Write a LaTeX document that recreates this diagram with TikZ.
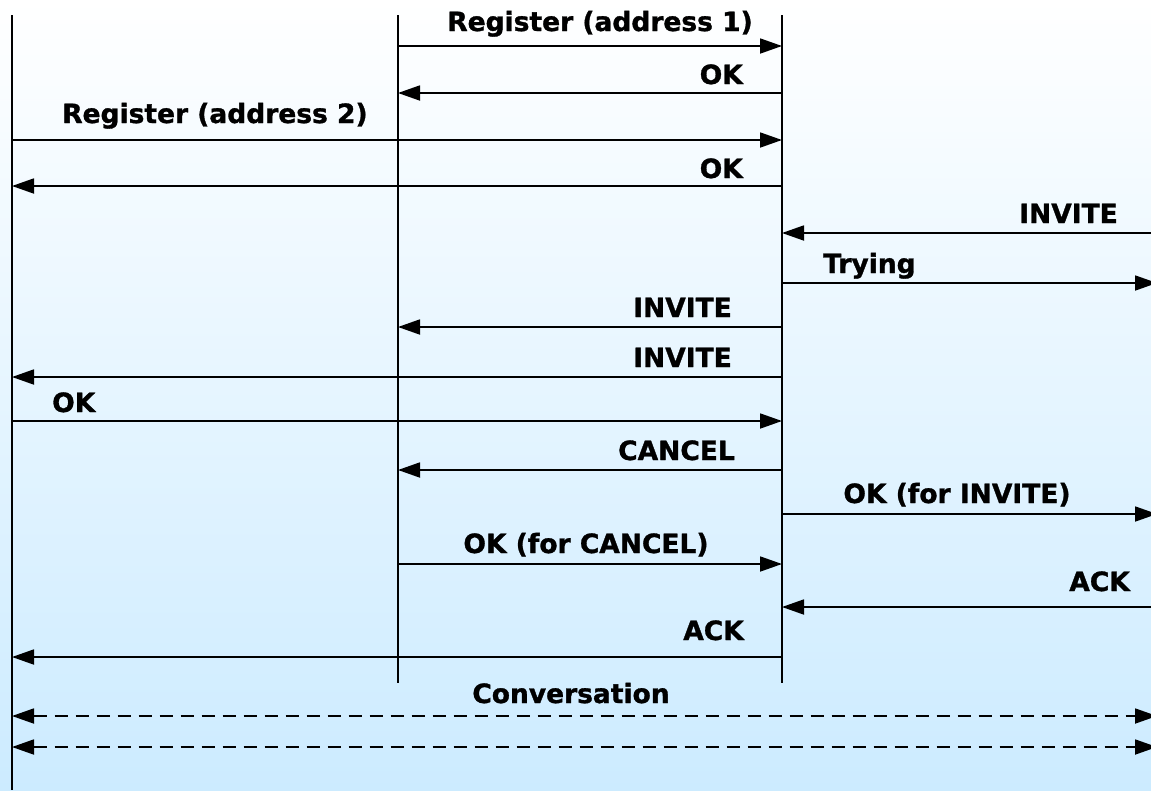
\documentclass[tikz,border=0pt]{standalone}
\usepackage{fontspec}
\setmainfont{DejaVu Sans}[BoldFeatures={FakeBold=1.2}]
\usetikzlibrary{arrows.meta}

\definecolor{skyblue}{RGB}{204,235,255}

\begin{document}
\begin{tikzpicture}[x=1pt, y=-1pt,
        every node/.append style={font=\bfseries\fontsize{26.5}{30}\selectfont, inner sep=0pt},
        life/.style={line width=1.8pt},
        msg/.style={line width=1.8pt, -{Triangle[length=22pt,width=15pt]}},
        conv/.style={line width=1.8pt, dash pattern=on 13pt off 8pt,
            {Triangle[length=22pt,width=15pt]}-{Triangle[length=22pt,width=15pt]}}]
        \useasboundingbox (0,0) rectangle (1151,790);
        \shade[top color=white, middle color=skyblue!38!white, bottom color=skyblue] (0,0) rectangle (1151,790);

        % lifelines
        \coordinate (a) at (12,15);
        \coordinate (b) at (398,15);
        \coordinate (c) at (782,15);
        \coordinate (d) at (1157,15);
        \coordinate (aend) at (12,790);
        \coordinate (bend) at (398,683);
        \coordinate (cend) at (782,683);
        \draw[life] (a) -- (aend);
        \draw[life] (b) -- (bend);
        \draw[life] (c) -- (cend);

        % messages
        \draw[msg] (b |- 0,46) -- (c |- 0,46);
        \node[anchor=base] (m1) at (600,31) {Register (address 1)};
        \draw[msg] (c |- 0,93) -- (b |- 0,93);
        \node[anchor=base east] (m2) at (743,84) {OK};
        \draw[msg] (a |- 0,140) -- (c |- 0,140);
        \node[anchor=base west] (m3) at (62,123) {Register (address 2)};
        \draw[msg] (c |- 0,186) -- (a |- 0,186);
        \node[anchor=base east] (m4) at (743,178) {OK};
        \draw[msg] (d |- 0,233) -- (c |- 0,233);
        \node[anchor=base east] (m5) at (1118,223) {INVITE};
        \draw[msg] (c |- 0,283) -- (d |- 0,283);
        \node[anchor=base west] (m6) at (823,273) {Trying};
        \draw[msg] (c |- 0,327) -- (b |- 0,327);
        \node[anchor=base east] (m7) at (732,317) {INVITE};
        \draw[msg] (c |- 0,377) -- (a |- 0,377);
        \node[anchor=base east] (m8) at (732,367) {INVITE};
        \draw[msg] (a |- 0,421) -- (c |- 0,421);
        \node[anchor=base west] (m9) at (52,412) {OK};
        \draw[msg] (c |- 0,470) -- (b |- 0,470);
        \node[anchor=base east] (m10) at (735,460) {CANCEL};
        \draw[msg] (c |- 0,514) -- (d |- 0,514);
        \node[anchor=base] (m11) at (957,503) {OK (for INVITE)};
        \draw[msg] (b |- 0,564) -- (c |- 0,564);
        \node[anchor=base] (m12) at (586,553) {OK (for CANCEL)};
        \draw[msg] (d |- 0,607) -- (c |- 0,607);
        \node[anchor=base east] (m13) at (1130,591) {ACK};
        \draw[msg] (c |- 0,657) -- (a |- 0,657);
        \node[anchor=base east] (m14) at (744,640) {ACK};

        % conversation
        \node[anchor=base] (talk) at (571,703) {Conversation};
        \draw[conv] (a |- 0,716) -- (d |- 0,716);
        \draw[conv] (a |- 0,747) -- (d |- 0,747);
    \end{tikzpicture}
\end{document}
